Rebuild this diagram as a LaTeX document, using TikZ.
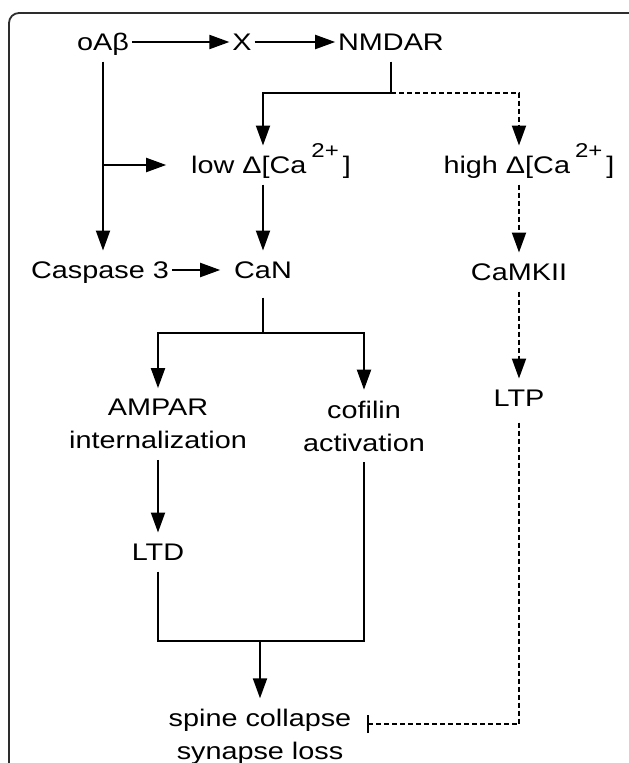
\documentclass[tikz,border=0pt]{standalone}
\usepackage{fontspec}
\setmainfont{Liberation Sans}[FakeStretch=1.2]
\usetikzlibrary{arrows.meta,positioning,calc}
\definecolor{lineColor}{RGB}{0,0,0}
\definecolor{frameColor}{RGB}{45,45,45}
\newcommand{\caion}{\kern5pt\raisebox{16pt}{\fontsize{20}{20}\selectfont 2+}\kern4pt}

\begin{document}
\begin{tikzpicture}[
  x=1pt, y=-1pt,
  font=\fontsize{24}{33}\selectfont,
  lbl/.style={inner xsep=3pt, inner ysep=11pt, outer sep=0pt, text height=17pt, text depth=0pt},
  twoline/.style={inner xsep=3pt, inner ysep=11pt, outer sep=0pt, align=center},
  link/.style={line width=2pt, draw=lineColor},
  arrow/.style={link, -{Triangle[length=20pt,width=14pt]}},
  dotlink/.style={link, dash pattern=on 5pt off 3pt},
  dotarrow/.style={arrow, dash pattern=on 5pt off 3pt},
  inhib/.style={dotlink, -{Bar[width=18pt]}},
  frame/.style={draw=frameColor, rounded corners=10pt, line width=1.8pt}
]
\useasboundingbox (0,0) rectangle (629,763);
\draw[frame] (9,13) rectangle (640,790);

% top row
\node[lbl] (oab) at (103,42) {oAβ};
\node[lbl] (xx) at (242,42) {X};
\node[lbl] (nmdar) at (391,42) {NMDAR};

% calcium levels
\node[lbl] (low) at (271,165) {low Δ[Ca\caion]};
\node[lbl] (high) at (529,165) {high Δ[Ca\caion]};

% enzymes
\node[lbl] (casp) at (100,270) {Caspase 3};
\node[lbl] (can) at (263,270) {CaN};
\node[lbl] (camk) at (519,272) {CaMKII};
\node[lbl] (ltp) at (519,398) {LTP};

% CaN targets
\node[twoline] (ampar) at (158,424) {AMPAR\\internalization};
\node[twoline] (cofil) at (364,426) {cofilin\\activation};
\node[lbl] (ltd) at (158,552) {LTD};
\node[twoline] (spine) at (260,737) {spine collapse\\synapse loss};

\draw[arrow] (oab) -- (xx);
\draw[arrow] (xx) -- (nmdar);

% NMDAR split
\coordinate (nsplit) at ($(nmdar.south)+(0,31)$);
\draw[link] (nmdar.south) -- (nsplit);
\draw[arrow] (nsplit) -| (low.north -| can.north);
\draw[dotarrow] (nsplit) -| (high.north -| camk.north);

% oAb direct routes
\draw[arrow] (oab.south) -- (oab.south |- casp.north);
\draw[arrow, shorten >=22pt] (oab.south |- low.west) -- (low.west);
\draw[arrow, shorten >=11pt] (casp.east) -- (can.west);

\draw[arrow] (low.south -| can.north) -- (can.north);
\draw[dotarrow] (high.south -| camk.north) -- (camk.north);
\draw[dotarrow] (camk.south) -- (ltp.north);

% CaN split
\coordinate (csplit) at ($(can.south)+(0,43)$);
\draw[link, shorten <=8pt] (can.south) -- (csplit);
\draw[arrow] (csplit) -| (ampar.north);
\draw[arrow] (csplit) -| (cofil.north);
\draw[arrow] (ampar.south) -- (ltd.north);

% merge to spine loss
\coordinate (join) at ($(spine.north)+(0,-57)$);
\draw[link] (ltd.south) |- (join) -| (cofil.south);
\draw[arrow] (join) -- (spine.north);

\draw[inhib, shorten <=5pt, shorten >=13pt] (ltp.south) |- ($(spine.east)+(0,-13)$);

\end{tikzpicture}
\end{document}
